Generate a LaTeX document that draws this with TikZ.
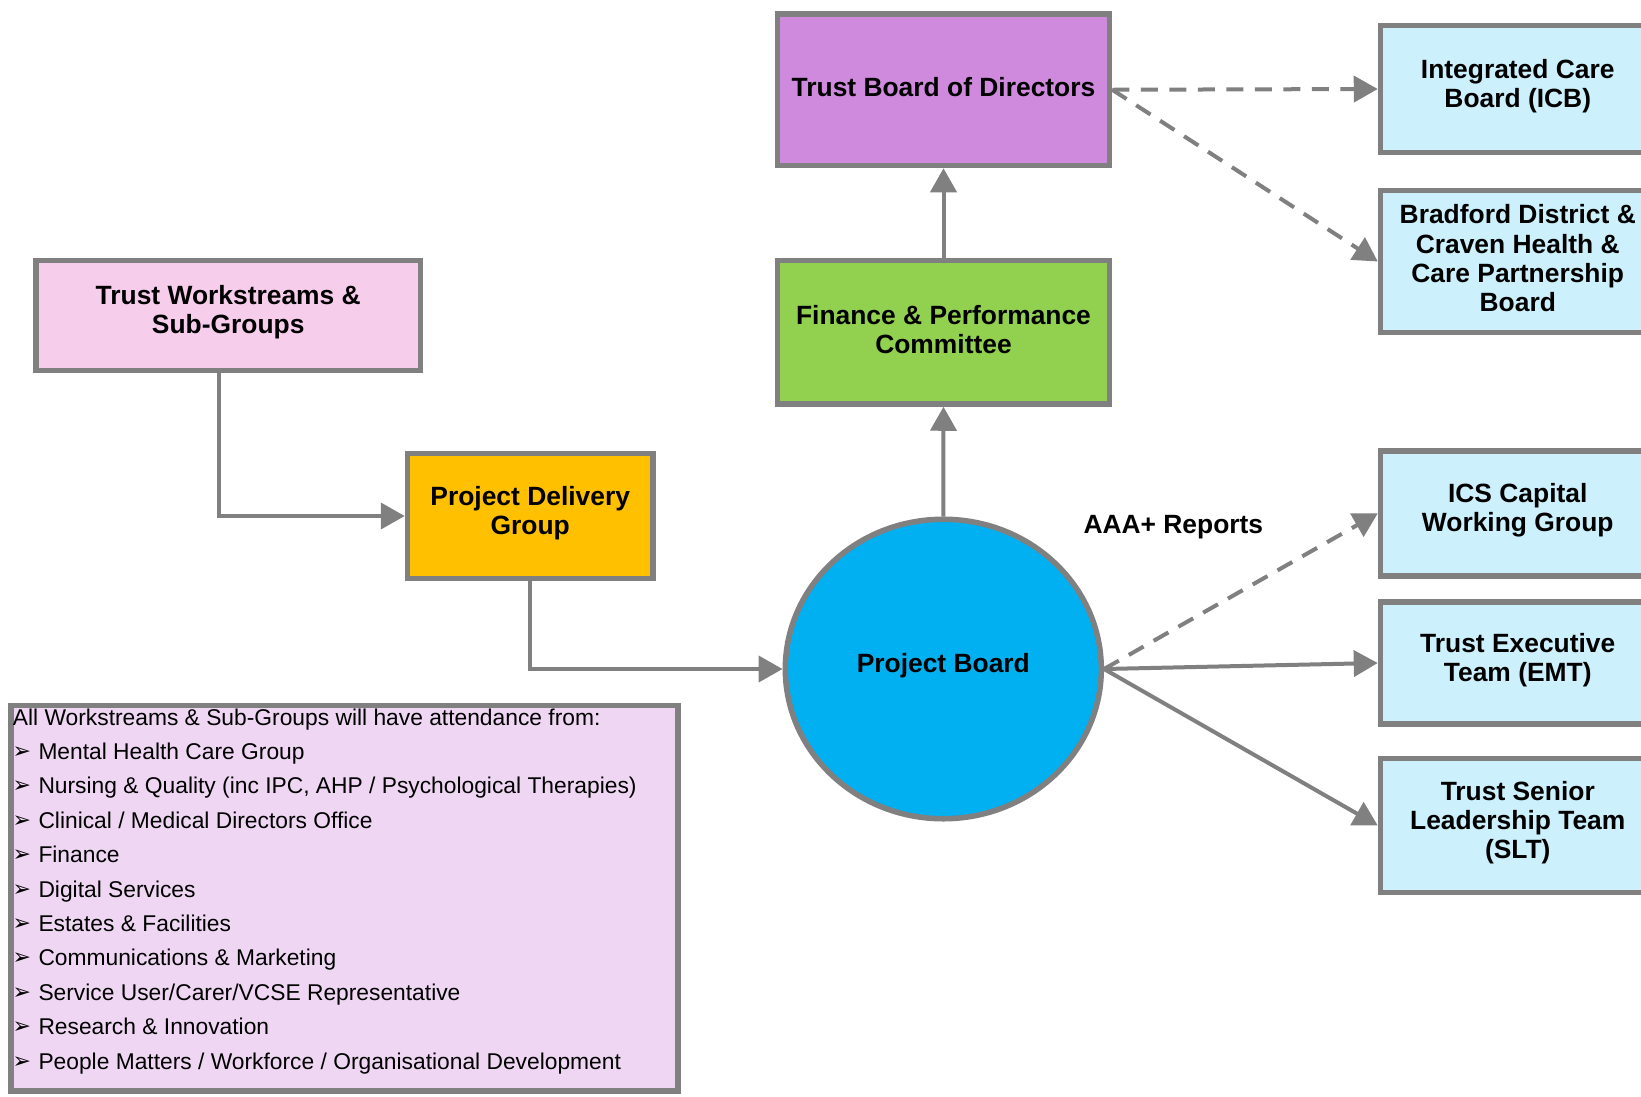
\documentclass[tikz,border=0pt]{standalone}
\usepackage{fontspec}
\setmainfont{Liberation Sans}
\newfontfamily\symfont{DejaVu Sans}
\usetikzlibrary{arrows.meta,shapes.geometric}

\definecolor{linegray}{HTML}{808080}
\definecolor{boardpurple}{HTML}{CF8ADD}
\definecolor{committeegreen}{HTML}{92D050}
\definecolor{streampink}{HTML}{F7CDEC}
\definecolor{deliveryorange}{HTML}{FFC000}
\definecolor{projectblue}{HTML}{00B0F0}
\definecolor{externalblue}{HTML}{CCF0FC}
\definecolor{listlavender}{HTML}{EFD7F3}

\begin{document}
\begin{tikzpicture}[x=1pt,y=-1pt,
  box/.style={draw=linegray, line width=5.5pt, rectangle, inner sep=0pt},
  boxtext/.style={font=\fontsize{26.4}{29.3}\selectfont\bfseries, align=center, inner sep=0pt, yshift=3pt},
  conn/.style={draw=linegray, line width=4pt, -{Triangle[length=24pt,width=26pt]}},
  dashconn/.style={conn, dash pattern=on 17pt off 11.5pt},
  listtext/.style={font=\fontsize{22.8}{27}\selectfont, anchor=base west, inner sep=0pt},
  bulletmark/.style={font=\symfont\fontsize{22}{22}\selectfont, anchor=base west, inner sep=0pt},
]
\fill[white] (0,0) rectangle (1641,1096);
\useasboundingbox (0,0) rectangle (1641,1096);
\clip (0,0) rectangle (1641,1096);

% governance boxes
\node[box, fill=boardpurple, minimum width=332pt, minimum height=151.5pt] (tbd) at (943.5,89.75) {};
\node[boxtext] (tbdtxt) at (tbd.center) {Trust Board of Directors};

\node[box, fill=committeegreen, minimum width=332pt, minimum height=143.5pt] (fpc) at (943.5,332.25) {};
\node[boxtext] (fpctxt) at (fpc.center) {Finance \& Performance\\Committee};

\node[box, fill=streampink, minimum width=384.5pt, minimum height=110pt] (tws) at (228.25,315.5) {};
\node[boxtext] (twstxt) at (tws.center) {Trust Workstreams \&\\Sub-Groups};

\node[box, fill=deliveryorange, minimum width=245.5pt, minimum height=125pt] (pdg) at (530.25,516) {};
\node[boxtext] (pdgtxt) at (pdg.center) {Project Delivery\\Group};

\node[draw=linegray, line width=5.5pt, ellipse, inner sep=0pt, fill=projectblue,
      minimum width=316pt, minimum height=299.5pt] (pb) at (943.3,669) {};
\node[boxtext] (pbtxt) at (pb.center) {Project Board};

% reporting destinations on the right
\node[box, fill=externalblue, minimum width=274.5pt, minimum height=127pt] (icb) at (1517.75,89) {};
\node[boxtext] (icbtxt) at (icb.center) {Integrated Care\\Board (ICB)};

\node[box, fill=externalblue, minimum width=274.5pt, minimum height=142pt] (bdc) at (1517.75,261.5) {};
\node[boxtext] (bdctxt) at (bdc.center) {Bradford District \&\\Craven Health \&\\Care Partnership\\Board};

\node[box, fill=externalblue, minimum width=274.5pt, minimum height=124.8pt] (ics) at (1517.75,513.4) {};
\node[boxtext] (icstxt) at (ics.center) {ICS Capital\\Working Group};

\node[box, fill=externalblue, minimum width=274.5pt, minimum height=122pt] (emt) at (1517.75,663) {};
\node[boxtext] (emttxt) at (emt.center) {Trust Executive\\Team (EMT)};

\node[box, fill=externalblue, minimum width=274.5pt, minimum height=134pt] (slt) at (1517.75,825.5) {};
\node[boxtext] (slttxt) at (slt.center) {Trust Senior\\Leadership Team\\(SLT)};

\node[anchor=base west, inner sep=0pt, font=\fontsize{26.4}{29.3}\selectfont\bfseries] (aaa) at (1083.3,533.3) {AAA+ Reports};

% attendance list
\node[box, fill=listlavender, minimum width=667pt, minimum height=385.5pt] (attend) at (344.5,898.25) {};
\node[listtext] (attendhead) at (12.7,725) {All Workstreams \& Sub-Groups will have attendance from:};
\foreach \t [count=\i] in {
  Mental Health Care Group,
  {Nursing \& Quality (inc IPC, AHP / Psychological Therapies)},
  Clinical / Medical Directors Office,
  Finance,
  Digital Services,
  Estates \& Facilities,
  Communications \& Marketing,
  Service User/Carer/VCSE Representative,
  Research \& Innovation,
  People Matters / Workforce / Organisational Development} {
  \node[bulletmark] (mark\i) at (12.5,{724+34.4*\i}) {➢};
  \node[listtext] (item\i) at (38.3,{725+34.4*\i}) {\t};
}

% connectors
\draw[conn] (fpc.north) -- (tbd.south);
\draw[conn] (pb.north) -- (fpc.south);
\draw[conn] ([xshift=-9pt]tws.south) |- (pdg.west);
\draw[conn] (pdg.south) |- (pb.west);
\draw[dashconn] (tbd.east) -- (icb.west);
\draw[dashconn] (tbd.east) -- (bdc.west);
\draw[dashconn] (pb.east) -- (ics.west);
\draw[conn] (pb.east) -- (emt.west);
\draw[conn] (pb.east) -- (slt.west);
\end{tikzpicture}
\end{document}
